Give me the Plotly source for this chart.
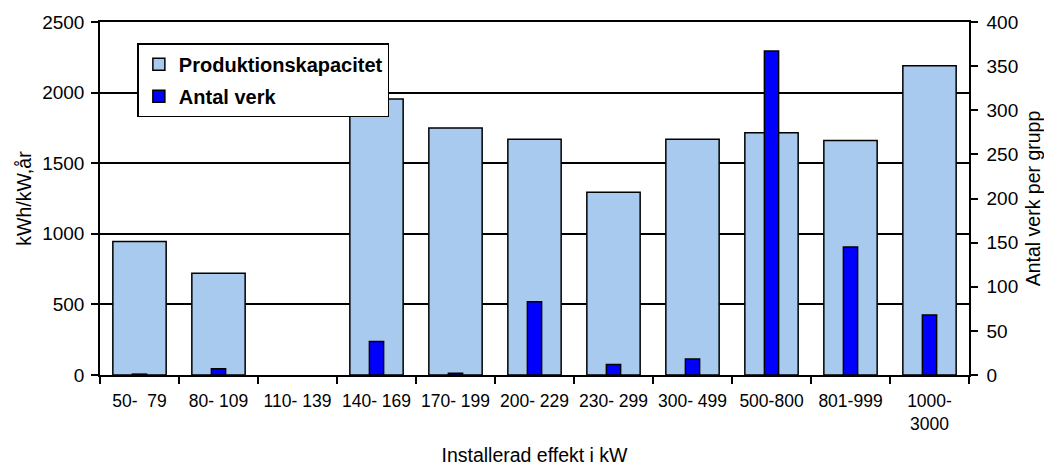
import plotly.graph_objects as go

# effektklasser (kW)
categories = ["50-\u00a0 79", "80- 109", "110- 139", "140- 169", "170- 199", "200- 229",
              "230- 299", "300- 499", "500-800", "801-999", "1000-<br>3000"]

# kWh/kW,år
produktion = [945, 720, None, 1955, 1750, 1670, 1295, 1670, 1715, 1660, 2190]

# antal verk per grupp
antal_verk = [1, 7, None, 38, 2, 83, 12, 18, 367, 145, 68]

FONT = "Liberation Sans, Arial, sans-serif"

fig = go.Figure()

fig.add_trace(go.Bar(
    x=categories, y=produktion, name="Produktionskapacitet",
    width=0.675, legendgroup="prod",
    marker=dict(color="#a8caee", line=dict(color="black", width=1.5)),
))
fig.add_trace(go.Bar(
    x=categories, y=antal_verk, name="Antal verk", yaxis="y2",
    width=0.18, legendgroup="antal",
    marker=dict(color="#0000ff", line=dict(color="black", width=1.5)),
))

# the page body adds 8px, so margins are shifted by that
fig.update_layout(
    width=1052, height=467,
    margin=dict(l=92, r=91, t=14, b=100),
    plot_bgcolor="white", paper_bgcolor="white",
    barmode="overlay",
    font=dict(family=FONT, size=17, color="black"),
    xaxis=dict(
        type="category", tickson="boundaries", automargin=False,
        ticks="outside", ticklen=7, tickwidth=1.5, tickcolor="black",
        ticklabelstandoff=9,
        showline=True, linecolor="black", linewidth=1.5, mirror=True,
        showgrid=False,
        tickfont=dict(size=17.5),
        title=dict(text="Installerad effekt i kW", font=dict(size=19.5), standoff=16),
    ),
    yaxis=dict(
        range=[0, 2500], dtick=500, automargin=False,
        ticks="outside", ticklen=7, tickwidth=1.5, tickcolor="black",
        ticklabelstandoff=3,
        showline=True, linecolor="black", linewidth=1.5,
        showgrid=True, gridcolor="black", gridwidth=1.5,
        zeroline=False,
        tickfont=dict(size=19),
        title=dict(text="kWh/kW,år", font=dict(size=19.5), standoff=5),
    ),
    yaxis2=dict(
        overlaying="y", side="right", automargin=False,
        range=[0, 400], dtick=50,
        ticks="outside", ticklen=7, tickwidth=1.5, tickcolor="black",
        ticklabelstandoff=5,
        showline=True, linecolor="black", linewidth=1.5,
        showgrid=False, zeroline=False,
        tickfont=dict(size=19),
        title=dict(text="Antal verk per grupp", font=dict(size=19.5), standoff=9),
    ),
    legend=dict(
        x=0.043, y=0.94, xanchor="left", yanchor="top",
        bgcolor="white", bordercolor="black", borderwidth=1.5,
        font=dict(size=20, family=FONT, weight="bold"),
        traceorder="grouped", tracegroupgap=3,
    ),
    showlegend=True,
)

fig.write_html("out.html")
